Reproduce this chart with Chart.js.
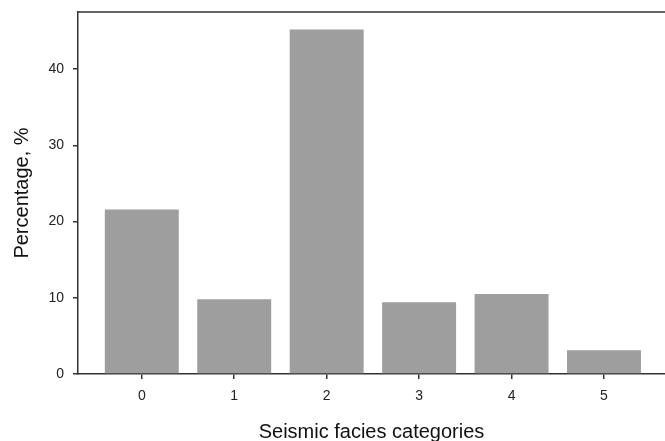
<!DOCTYPE html>
<html>
<head>
<meta charset="utf-8">
<script src="https://cdn.jsdelivr.net/npm/chart.js@4"></script>
<style>
html,body{margin:0;padding:0;background:#fff;}
#wrap{width:665px;height:441px;}
</style>
</head>
<body>
<div id="wrap"><canvas id="c" width="665" height="441"></canvas></div>
<script>
const categories = [0, 1, 2, 3, 4, 5];
const percentages = [21.6, 9.8, 45.2, 9.4, 10.5, 3.1];
const yTicks = [0, 10, 20, 30, 40];

const frame = {
  id: 'frame',
  afterDraw(chart) {
    const a = chart.chartArea, ctx = chart.ctx;
    ctx.save();
    ctx.strokeStyle = '#333';
    ctx.lineWidth = 1.5;
    ctx.beginPath();
    ctx.moveTo(a.left, a.top);
    ctx.lineTo(a.right + 2, a.top);
    ctx.stroke();
    ctx.restore();
  }
};

new Chart(document.getElementById('c'), {
  type: 'bar',
  data: {
    datasets: [{
      data: categories.map((c, i) => ({x: c, y: percentages[i]})),
      backgroundColor: '#9d9e9d',
      borderWidth: 0,
      barPercentage: 0.8,
      categoryPercentage: 1.0
    }]
  },
  options: {
    responsive: false,
    animation: false,
    layout: {padding: {top: 12, right: 0, left: 0, bottom: 0}},
    plugins: {legend: {display: false}, tooltip: {enabled: false}},
    scales: {
      x: {
        type: 'linear',
        offset: false,
        min: -0.69,
        max: 5.66,
        afterFit(s) { s.height = 67; s.paddingLeft = 0; s.paddingRight = 0; },
        afterBuildTicks(s) { s.ticks = categories.map(v => ({value: v})); },
        ticks: {
          font: {family: 'Liberation Sans', size: 14},
          color: '#222',
          padding: 9,
          callback: v => String(v)
        },
        grid: {offset: false, drawOnChartArea: false, drawTicks: true, tickLength: 5, color: '#333', lineWidth: 1.5},
        border: {display: true, color: '#333', width: 1.5},
        title: {
          display: true,
          text: 'Seismic facies categories',
          font: {family: 'Liberation Sans', size: 20, lineHeight: 0.9},
          color: '#111',
          padding: {top: 0, bottom: 0}
        }
      },
      y: {
        min: 0,
        max: 47.5,
        afterFit(s) { s.width = 78; s.paddingTop = 0; s.paddingBottom = 0; },
        afterBuildTicks(s) { s.ticks = yTicks.map(v => ({value: v})); },
        ticks: {
          font: {family: 'Liberation Sans', size: 14},
          color: '#222',
          padding: 9
        },
        grid: {drawOnChartArea: false, drawTicks: true, tickLength: 5, color: '#333', lineWidth: 1.5},
        border: {display: true, color: '#333', width: 1.5},
        title: {
          display: true,
          text: 'Percentage, %',
          font: {family: 'Liberation Sans', size: 20, lineHeight: 1.2},
          color: '#111',
          padding: {top: 10, bottom: 0}
        }
      }
    }
  },
  plugins: [frame]
});
</script>
</body>
</html>
